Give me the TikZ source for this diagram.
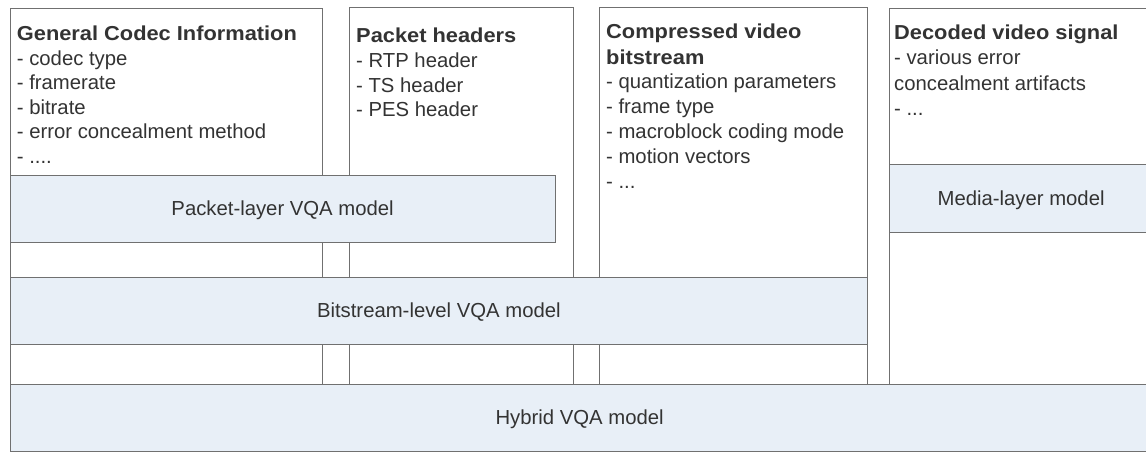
\documentclass[tikz,border=0pt]{standalone}
\usepackage{fontspec}
\setmainfont{Liberation Sans}
\newfontfamily\headfont[FakeStretch=1.08]{Liberation Sans}
\definecolor{edge}{RGB}{112,112,112}
\definecolor{layerfill}{RGB}{232,239,247}
\definecolor{ink}{RGB}{51,51,51}
\newcommand{\etcdots}[1]{- #1}
\begin{document}
\begin{tikzpicture}[x=1pt,y=-1pt,
  colbox/.style={draw=edge, line width=1.2pt, fill=white, rectangle,
    inner sep=0pt, anchor=north west},
  layer/.style={draw=edge, line width=1.2pt, fill=layerfill, rectangle,
    inner sep=0pt, anchor=north west},
  lbl/.style={anchor=base, inner sep=0pt, text=ink,
    font=\fontsize{20.3}{24}\selectfont},
  head/.style={anchor=base west, inner sep=0pt, text=ink,
    font=\headfont\bfseries\fontsize{20.2}{24}\selectfont},
  item/.style={anchor=base west, inner sep=0pt, text=ink,
    font=\fontsize{20.3}{24}\selectfont}]
\useasboundingbox (0,0) rectangle (1146,452);
\fill[white] (0,0) rectangle (1146,452);
\clip (0,0) rectangle (1146,452);

% information columns
\node[colbox, minimum width=312.5pt, minimum height=452pt] (col1) at (9.5,8) {};
\node[colbox, minimum width=223.8pt, minimum height=453pt] (col2) at (348.7,7.3) {};
\node[colbox, minimum width=268.3pt, minimum height=453pt] (col3) at (598.7,7.3) {};
\node[colbox, minimum width=263pt, minimum height=453pt] (col4) at (889,7.7) {};

% column 1
\node[head] (c1h) at (16.7,41) {General Codec Information};
\foreach \t [count=\i] in {{- codec type}, {- framerate}, {- bitrate},
    {- error concealment method}, {\etcdots{....}}}
  \node[item] (c1l\i) at ({16.7},{41+24.4*\i}) {\t};

% column 2
\node[head] (c2h) at (356,42.5) {Packet headers};
\foreach \t [count=\i] in {{- RTP header}, {- TS header}, {- PES header}}
  \node[item] (c2l\i) at ({356},{42.5+24.8*\i}) {\t};

% column 3
\node[head] (c3h) at (606,39) {Compressed video};
\node[head] (c3h2) at (606,64) {bitstream};
\foreach \t [count=\i] in {{- quantization parameters}, {- frame type},
    {- macroblock coding mode}, {- motion vectors}, {\etcdots{...}}}
  \node[item] (c3l\i) at ({606},{64+24.8*\i}) {\t};

% column 4
\node[head] (c4h) at (894,40) {Decoded video signal};
\foreach \t [count=\i] in {{- various error}, {concealment artifacts}, {\etcdots{...}}}
  \node[item] (c4l\i) at ({894},{40+25*\i}) {\t};

% model layers
\node[layer, minimum width=545pt, minimum height=67pt] (packet) at (9.5,174.5) {};
\node[lbl] (packetlbl) at ([yshift=-7pt]packet.center) {Packet-layer VQA model};

\node[layer, minimum width=263pt, minimum height=68pt] (media) at (889,164) {};
\node[lbl] (medialbl) at ([yshift=-7pt]media.center) {Media-layer model};

\node[layer, minimum width=857.5pt, minimum height=66.5pt] (bits) at (9.5,277) {};
\node[lbl] (bitslbl) at ([yshift=-7pt]bits.center) {Bitstream-level VQA model};

\node[layer, minimum width=1139pt, minimum height=67pt] (hybrid) at (9.5,383.5) {};
\node[lbl] (hybridlbl) at ([yshift=-7pt]hybrid.center) {Hybrid VQA model};
\end{tikzpicture}
\end{document}
